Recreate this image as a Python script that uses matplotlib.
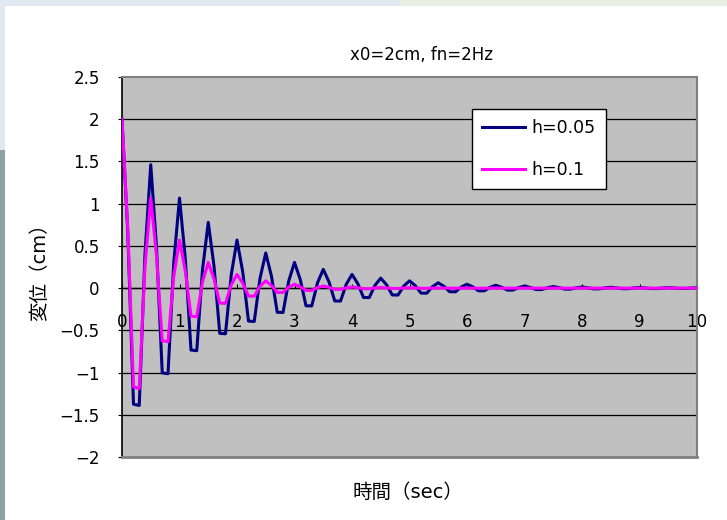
import matplotlib
matplotlib.use("Agg")
import matplotlib.pyplot as plt
from matplotlib.patches import Rectangle

plt.rcParams['font.family'] = ['DejaVu Sans', 'Noto Sans CJK JP']

# time axis (sec), sampled every 0.1 s
t = [i / 10 for i in range(101)]

h005 = [
    2.000, 0.670, -1.375, -1.389, 0.407,
    1.461, 0.489, -1.004, -1.014, 0.297,
    1.067, 0.357, -0.734, -0.741, 0.217,
    0.779, 0.261, -0.536, -0.541, 0.158,
    0.569, 0.191, -0.391, -0.395, 0.116,
    0.416, 0.139, -0.286, -0.289, 0.085,
    0.304, 0.102, -0.209, -0.211, 0.062,
    0.222, 0.074, -0.152, -0.154, 0.045,
    0.162, 0.054, -0.111, -0.112, 0.033,
    0.118, 0.040, -0.081, -0.082, 0.024,
    0.086, 0.029, -0.059, -0.060, 0.018,
    0.063, 0.021, -0.043, -0.044, 0.013,
    0.046, 0.015, -0.032, -0.032, 0.009,
    0.034, 0.011, -0.023, -0.023, 0.007,
    0.025, 0.008, -0.017, -0.017, 0.005,
    0.018, 0.006, -0.012, -0.012, 0.004,
    0.013, 0.004, -0.009, -0.009, 0.003,
    0.010, 0.003, -0.007, -0.007, 0.002,
    0.007, 0.002, -0.005, -0.005, 0.001,
    0.005, 0.002, -0.004, -0.004, 0.001,
    0.004,
]

h01 = [
    2.000, 0.714, -1.167, -1.191, 0.258,
    1.067, 0.381, -0.622, -0.635, 0.138,
    0.569, 0.203, -0.332, -0.339, 0.073,
    0.304, 0.108, -0.177, -0.181, 0.039,
    0.162, 0.058, -0.094, -0.096, 0.021,
    0.086, 0.031, -0.050, -0.051, 0.011,
    0.046, 0.016, -0.027, -0.027, 0.006,
    0.025, 0.009, -0.014, -0.015, 0.003,
    0.013, 0.005, -0.008, -0.008, 0.002,
    0.007, 0.002, -0.004, -0.004, 0.001,
    0.004, 0.001, -0.002, -0.002, 0.000,
    0.002, 0.001, -0.001, -0.001, 0.000,
    0.001, 0.000, -0.001, -0.001, 0.000,
    0.001, 0.000, 0.000, 0.000, 0.000,
    0.000, 0.000, 0.000, 0.000, 0.000,
    0.000, 0.000, 0.000, 0.000, 0.000,
    0.000, 0.000, 0.000, 0.000, 0.000,
    0.000, 0.000, 0.000, 0.000, 0.000,
    0.000, 0.000, 0.000, 0.000, 0.000,
    0.000, 0.000, 0.000, 0.000, 0.000,
    0.000,
]

labels = ['h=0.05', 'h=0.1']
colors = ['#000080', '#ff00ff']
xticks = list(range(0, 11))
yticks = [-2, -1.5, -1, -0.5, 0, 0.5, 1, 1.5, 2, 2.5]
ytick_labels = ['−2', '−1.5', '−1', '−0.5', '0', '0.5', '1', '1.5', '2', '2.5']

W, H = 727, 520
fig = plt.figure(figsize=(W / 100, H / 100), dpi=100)
fig.patch.set_facecolor('#e2e8f0')

# decorative background strips
fig.add_artist(Rectangle((0, 0), 6 / W, 1 - 150 / H, transform=fig.transFigure,
                         facecolor='#8ea2a4', edgecolor='none', zorder=0))
fig.add_artist(Rectangle((400 / W, 1 - 6 / H), 1 - 400 / W, 6 / H, transform=fig.transFigure,
                         facecolor='#e9eee5', edgecolor='none', zorder=0))
fig.add_artist(Rectangle((5 / W, 0), 1 - 5 / W, 1 - 6 / H, transform=fig.transFigure,
                         facecolor='white', edgecolor='none', zorder=0))

ax = fig.add_axes([122 / W, 1 - 457 / H, 575 / W, 380 / H])
ax.set_facecolor('#c0c0c0')
ax.set_xlim(0, 10)
ax.set_ylim(-2, 2.5)

for y in yticks[1:-1]:
    ax.axhline(y, color='black', lw=0.9, zorder=1)

ax.plot(t, h005, color=colors[0], lw=2.2, label=labels[0], zorder=3)
ax.plot(t, h01, color=colors[1], lw=2.2, label=labels[1], zorder=4)

for s in ['top', 'right']:
    ax.spines[s].set_color('#808080')
    ax.spines[s].set_linewidth(1.5)
ax.spines['left'].set_color('black')
ax.spines['left'].set_linewidth(1.2)
ax.spines['bottom'].set_position(('data', 0))
ax.spines['bottom'].set_color('black')
ax.spines['bottom'].set_linewidth(1.0)
ax.spines['bottom'].set_zorder(2)
ax.axhline(-2, color='#808080', lw=2.0, zorder=5, clip_on=False)

ax.set_xticks(xticks)
ax.set_xticklabels([str(x) for x in xticks])
ax.set_yticks(yticks)
ax.set_yticklabels(ytick_labels)
ax.tick_params(axis='x', direction='in', length=3, width=0.8, pad=18, labelsize=12)
ax.tick_params(axis='y', direction='out', length=3, width=0.8, pad=13, labelsize=12)

fig.text(421 / W, 1 - 55 / H, 'x0=2cm, fn=2Hz', ha='center', va='center', fontsize=12)
fig.text(408 / W, 1 - 492 / H, '時間（sec）', ha='center', va='center', fontsize=14)
fig.text(40 / W, 1 - 267 / H, '変位（cm）', ha='center', va='center', rotation=90, fontsize=14)

leg = ax.legend(loc='upper left', bbox_to_anchor=(472 / W, 1 - 109 / H),
                bbox_transform=fig.transFigure, fontsize=12.5, frameon=True,
                fancybox=False, framealpha=1, edgecolor='black',
                handlelength=2.45, handletextpad=0.35, borderpad=0.6,
                labelspacing=1.35, borderaxespad=0)
leg.get_frame().set_linewidth(1.0)

fig.savefig('out.png', dpi=100, facecolor=fig.get_facecolor())
